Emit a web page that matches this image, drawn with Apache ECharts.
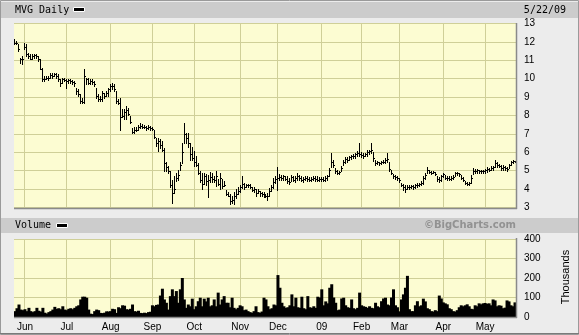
<!DOCTYPE html>
<html><head><meta charset="utf-8">
<script src="https://cdn.jsdelivr.net/npm/echarts@6/dist/echarts.min.js"></script>
<style>html,body{margin:0;padding:0;background:#ececec;overflow:hidden}#c{width:579px;height:335px}</style>
</head><body><div id="c"></div><script>
// Month labels and the index of the first trading day of each month
const monthLabels = ['Jun','Jul','Aug','Sep','Oct','Nov','Dec','09','Feb','Mar','Apr','May'];
const monthStartIdx = [5,26,48,69,90,113,132,154,174,193,215,236];
const priceTicks = {min: 3, max: 13, interval: 1};
const volumeTicks = {min: 0, max: 400, interval: 100};

const high = [
12.15,12.05,11.87,11.15,11.24,11.93,11.87,11.42,11.33,11.33,
11.33,11.33,11.24,11.05,10.6,10.15,10.15,10.15,10.33,10.33,
10.33,10.33,10.24,9.96,10.05,10.05,10.0,10.0,9.96,9.93,
9.87,9.5,9.42,9.15,8.96,10.51,10.05,10.05,9.96,9.96,
9.87,9.5,9.15,9.05,9.33,9.24,9.33,9.5,9.69,9.78,
9.69,9.33,8.87,8.94,8.33,8.35,8.5,8.4,7.95,7.3,
7.4,7.4,7.5,7.6,7.55,7.5,7.45,7.5,7.45,7.4,
7.23,6.8,6.8,6.7,6.6,6.25,5.5,5.24,5.0,4.5,
4.7,4.9,5.05,5.5,6.5,7.6,7.05,7.05,6.5,6.3,
6.05,5.8,5.42,4.96,4.9,4.85,4.8,4.75,4.95,4.85,
4.7,4.96,4.55,4.9,4.55,4.45,3.96,3.85,3.75,3.6,
3.85,4.0,4.1,4.25,4.7,4.35,4.3,4.3,4.3,4.1,
4.1,4.0,4.0,3.9,3.85,3.85,3.75,3.8,4.05,4.25,
4.6,4.7,5.2,4.8,4.75,4.75,4.7,4.7,4.6,4.75,
4.7,4.7,4.9,4.75,4.7,4.65,4.7,4.7,4.65,4.65,
4.7,4.7,4.7,4.65,4.65,4.65,4.7,4.75,5.15,5.96,
5.6,5.15,5.05,5.0,5.25,5.6,5.75,5.75,5.8,5.85,
5.9,5.95,6.05,6.5,6.0,5.95,5.95,6.1,6.15,6.5,
6.0,5.6,5.55,5.5,5.55,5.6,5.7,5.95,5.5,5.05,
4.8,4.75,4.7,4.6,4.35,4.3,4.25,4.25,4.2,4.2,
4.2,4.3,4.35,4.35,4.45,4.7,4.9,5.2,5.05,5.0,
5.0,4.95,4.7,4.65,4.75,4.85,4.75,4.7,4.7,4.7,
4.75,4.95,4.95,4.9,4.75,4.65,4.45,4.4,4.4,4.75,
5.15,5.1,5.1,5.05,5.05,5.05,5.1,5.2,5.15,5.25,
5.25,5.6,5.45,5.35,5.3,5.3,5.25,5.2,5.35,5.55,
5.6,5.55];
const low = [
11.87,11.87,11.5,10.87,10.78,11.6,11.24,11.15,11.05,11.05,
11.15,11.15,10.96,10.51,9.87,9.87,9.96,9.93,10.05,10.05,
10.15,10.05,9.87,9.6,9.78,9.87,9.5,9.78,9.78,9.69,
9.6,9.15,9.05,8.69,8.69,8.69,9.69,9.69,9.69,9.69,
9.6,8.96,8.78,8.78,8.78,8.96,9.05,9.05,9.33,9.42,
9.33,8.69,8.6,7.23,7.9,7.8,7.8,8.04,7.6,7.05,
7.05,7.15,7.23,7.3,7.3,7.3,7.23,7.25,7.23,7.2,
6.8,6.35,6.05,6.25,6.05,4.97,4.97,4.88,4.1,3.25,
3.8,4.45,4.5,5.05,5.4,6.5,6.5,6.3,5.6,5.6,
5.25,5.25,4.8,4.4,4.0,4.3,4.2,3.55,4.4,4.4,
4.4,4.15,4.25,4.0,4.05,4.15,3.7,3.6,3.2,3.25,
3.2,3.5,3.75,3.85,4.05,4.0,4.1,4.1,4.05,3.9,
3.85,3.65,3.8,3.65,3.65,3.55,3.55,3.4,3.6,3.9,
4.05,4.35,3.95,4.5,4.5,4.5,4.5,4.35,4.3,4.45,
4.45,4.4,4.5,4.5,4.45,4.4,4.5,4.45,4.45,4.45,
4.5,4.45,4.45,4.45,4.45,4.45,4.45,4.5,4.7,5.2,
5.2,4.9,4.8,4.8,5.0,5.3,5.4,5.5,5.6,5.65,
5.7,5.7,5.8,5.8,5.75,5.7,5.8,5.8,5.9,5.95,
5.55,5.3,5.35,5.3,5.35,5.4,5.4,5.5,5.0,4.8,
4.6,4.55,4.5,4.4,4.15,3.95,3.85,4.0,4.0,4.05,
4.0,4.05,4.1,4.15,4.25,4.3,4.55,4.9,4.85,4.8,
4.85,4.75,4.45,4.4,4.45,4.65,4.55,4.5,4.5,4.5,
4.55,4.7,4.75,4.7,4.55,4.45,4.3,4.25,4.25,4.35,
4.8,4.9,4.9,4.9,4.9,4.9,4.9,4.95,5.0,5.05,
5.05,5.2,5.2,5.2,5.05,5.05,5.05,5.0,5.15,5.3,
5.4,5.45];
const close = [
11.96,11.93,11.6,11.05,11.05,11.7,11.33,11.24,11.09,11.24,
11.27,11.24,11.05,10.55,9.96,10.0,10.05,10.04,10.18,10.15,
10.24,10.15,9.96,9.78,9.96,9.93,9.87,9.93,9.87,9.82,
9.78,9.33,9.15,8.78,8.73,10.15,9.96,9.78,9.87,9.82,
9.69,9.05,8.87,8.87,9.24,9.05,9.24,9.42,9.6,9.6,
9.42,8.78,8.69,7.9,8.0,8.2,8.3,8.1,7.65,7.1,
7.2,7.2,7.35,7.45,7.4,7.4,7.3,7.35,7.3,7.25,
6.85,6.5,6.6,6.4,6.15,5.4,5.2,5.0,4.2,3.8,
4.0,4.6,4.75,5.3,6.0,7.0,6.8,6.5,5.9,5.7,
5.5,5.3,4.9,4.5,4.3,4.7,4.45,4.5,4.65,4.55,
4.5,4.7,4.3,4.6,4.15,4.2,3.75,3.65,3.35,3.4,
3.6,3.75,3.9,4.1,4.3,4.1,4.2,4.2,4.1,3.95,
4.0,3.8,3.9,3.8,3.75,3.7,3.65,3.6,3.9,4.1,
4.4,4.55,4.6,4.65,4.6,4.7,4.55,4.45,4.4,4.65,
4.5,4.6,4.7,4.6,4.5,4.55,4.6,4.55,4.5,4.55,
4.6,4.55,4.5,4.55,4.55,4.5,4.6,4.7,5.05,5.45,
5.3,5.0,4.9,4.95,5.15,5.5,5.65,5.6,5.75,5.8,
5.8,5.9,5.95,5.9,5.85,5.8,5.9,6.0,6.05,6.1,
5.7,5.4,5.45,5.4,5.5,5.5,5.6,5.65,5.1,4.9,
4.7,4.65,4.6,4.5,4.25,4.1,4.0,4.1,4.1,4.15,
4.1,4.2,4.25,4.3,4.35,4.6,4.75,5.05,4.95,4.9,
4.95,4.8,4.55,4.5,4.7,4.8,4.6,4.6,4.55,4.6,
4.65,4.85,4.85,4.8,4.6,4.5,4.35,4.3,4.35,4.6,
5.0,5.0,5.05,5.0,5.0,5.0,5.05,5.1,5.05,5.15,
5.2,5.4,5.3,5.25,5.15,5.2,5.15,5.1,5.3,5.45,
5.55,5.5];
// volume in thousands
const volume = [
30,45,64,38,35,40,30,47,30,25,
30,47,32,28,47,22,18,25,30,38,
52,42,45,40,55,38,35,42,45,40,
47,55,60,90,104,104,99,38,17,15,
30,38,35,21,20,22,29,28,30,42,
40,21,50,45,60,58,40,38,42,64,
30,28,32,21,20,22,20,25,27,60,
55,62,64,110,145,90,73,38,107,142,
107,133,73,142,200,90,47,64,55,94,
40,55,81,99,55,94,80,99,55,60,
90,55,125,64,90,107,73,73,50,99,
47,40,47,60,55,35,38,30,25,22,
30,55,25,22,28,99,90,55,40,45,
64,60,215,150,73,55,47,50,60,116,
55,99,50,47,104,45,40,107,50,47,
55,47,104,100,142,60,80,70,150,168,
100,73,35,38,95,99,60,50,47,90,
45,40,47,125,60,55,52,47,55,47,
45,73,55,50,81,95,99,64,60,100,
142,60,50,29,90,116,150,211,40,30,
30,60,81,55,60,94,80,45,40,30,
28,35,30,110,95,75,70,65,45,40,
30,28,35,50,60,55,60,65,55,42,
40,60,55,70,65,70,72,68,70,60,
90,85,55,60,58,45,48,85,80,60,
55,75];

const days = close.map((_, i) => String(i));
const gridColor = '#cfcf98';
const plotBg = '#fcfcd2';
const monoFont = '"DejaVu Sans Mono", monospace';
const sansFont = '"Liberation Sans", Arial, sans-serif';

const chart = echarts.init(document.getElementById('c'), null, {renderer: 'canvas'});

const ohlcData = close.map((c, i) => [i, high[i], low[i], c]);
const monthData = monthStartIdx.map(i => [i]);

function monthLineRender(params, api) {
  const p = api.coord([api.value(0), 0]);
  const cs = params.coordSys;
  const x = Math.floor(p[0]) + 0.5;
  return {type: 'line', silent: true,
    shape: {x1: x, y1: cs.y, x2: x, y2: cs.y + cs.height},
    style: {stroke: gridColor, lineWidth: 1}};
}

const option = {
  animation: false,
  backgroundColor: '#ececec',
  grid: [
    {left: 14, right: 63, top: 23.5, height: 184, show: true, backgroundColor: plotBg, borderWidth: 0},
    {left: 14, right: 63, top: 239, height: 78, show: true, backgroundColor: plotBg, borderWidth: 0}
  ],
  xAxis: [
    {type: 'category', gridIndex: 0, data: days, boundaryGap: true,
     axisLine: {show: false}, axisTick: {show: false}, axisLabel: {show: false}, splitLine: {show: false}},
    {type: 'category', gridIndex: 1, data: days, boundaryGap: true,
     axisLine: {show: false}, axisTick: {show: false}, splitLine: {show: false},
     axisLabel: {show: true, margin: 5, color: '#000', fontSize: 10, fontFamily: sansFont,
       interval: (idx) => monthStartIdx.indexOf(idx) >= 0,
       formatter: (val, idx) => { const k = monthStartIdx.indexOf(Number(val)); return k >= 0 ? monthLabels[k] : ''; }}}
  ],
  yAxis: [
    {type: 'value', gridIndex: 0, position: 'right', min: priceTicks.min, max: priceTicks.max, interval: priceTicks.interval,
     axisLine: {show: false}, axisTick: {show: false},
     axisLabel: {margin: 8, color: '#000', fontSize: 10, fontFamily: sansFont},
     splitLine: {show: true, lineStyle: {color: gridColor, width: 1}}},
    {type: 'value', gridIndex: 1, position: 'right', min: volumeTicks.min, max: volumeTicks.max, interval: volumeTicks.interval,
     axisLine: {show: false}, axisTick: {show: false},
     axisLabel: {margin: 8, color: '#000', fontSize: 10, fontFamily: sansFont},
     splitLine: {show: true, lineStyle: {color: gridColor, width: 1}}}
  ],
  series: [
    {type: 'custom', xAxisIndex: 0, yAxisIndex: 0, z: 1, silent: true, data: monthData,
     encode: {x: 0}, renderItem: monthLineRender},
    {type: 'custom', xAxisIndex: 1, yAxisIndex: 1, z: 1, silent: true, data: monthData,
     encode: {x: 0}, renderItem: monthLineRender},
    {type: 'custom', xAxisIndex: 0, yAxisIndex: 0, z: 3, silent: true, data: ohlcData,
     encode: {x: 0, y: [1, 2, 3]},
     renderItem: function (params, api) {
       const i = api.value(0);
       const ph = api.coord([i, api.value(1)]);
       const pl = api.coord([i, api.value(2)]);
       const pc = api.coord([i, api.value(3)]);
       const x = Math.floor(ph[0]) + 0.5;
       const yc = Math.round(pc[1]) + 0.5;
       return {type: 'group', children: [
         {type: 'line', shape: {x1: x, y1: Math.round(ph[1]), x2: x, y2: Math.round(pl[1]) + 1},
          style: {stroke: '#000', lineWidth: 1}},
         {type: 'line', shape: {x1: x, y1: yc, x2: x + 1.5, y2: yc},
          style: {stroke: '#000', lineWidth: 1}}
       ]};
     }},
    {type: 'bar', xAxisIndex: 1, yAxisIndex: 1, z: 3, silent: true, data: volume,
     barWidth: 3, barGap: '0%', itemStyle: {color: '#000'}}
  ],
  graphic: [
    {type: 'rect', z: 100, silent: true, shape: {x: 0.5, y: 0.5, width: 578, height: 334}, style: {fill: 'none', stroke: '#9a9a9a', lineWidth: 1}},
    {type: 'rect', z: 99, silent: true, shape: {x: 1, y: 2, width: 577, height: 16}, style: {fill: '#cccccc'}},
    {type: 'text', z: 101, silent: true, x: 15, y: 10, style: {text: 'MVG Daily', font: '10px ' + monoFont, fill: '#000', verticalAlign: 'middle'}},
    {type: 'rect', z: 101, silent: true, shape: {x: 73.5, y: 7.5, width: 11, height: 4}, style: {fill: '#000', stroke: '#fff', lineWidth: 1}},
    {type: 'text', z: 101, silent: true, x: 566, y: 10, style: {text: '5/22/09', font: '10px ' + monoFont, fill: '#000', align: 'right', verticalAlign: 'middle'}},
    {type: 'rect', z: 99, silent: true, shape: {x: 1, y: 218, width: 577, height: 15}, style: {fill: '#cccccc'}},
    {type: 'text', z: 101, silent: true, x: 15, y: 225.5, style: {text: 'Volume', font: '10px ' + monoFont, fill: '#000', verticalAlign: 'middle'}},
    {type: 'rect', z: 101, silent: true, shape: {x: 56.5, y: 223.5, width: 11, height: 4}, style: {fill: '#000', stroke: '#fff', lineWidth: 1}},
    {type: 'text', z: 101, silent: true, x: 516, y: 225.5, style: {text: '\u00A9BigCharts.com', font: 'bold 10px "DejaVu Sans", sans-serif', fill: '#929292', align: 'right', verticalAlign: 'middle'}},
    {type: 'text', z: 101, silent: true, x: 566, y: 277, rotation: Math.PI / 2, style: {text: 'Thousands', font: '11px ' + sansFont, fill: '#000', align: 'center', verticalAlign: 'middle'}},
    // plot edges
    {type: 'line', z: 100, silent: true, shape: {x1: 14, y1: 208.5, x2: 517, y2: 208.5}, style: {stroke: '#8a8a8a', lineWidth: 1.5}},
    {type: 'line', z: 100, silent: true, shape: {x1: 516.5, y1: 23, x2: 516.5, y2: 209}, style: {stroke: '#8a8a8a', lineWidth: 1.5}},
    {type: 'line', z: 100, silent: true, shape: {x1: 14, y1: 317.5, x2: 517, y2: 317.5}, style: {stroke: '#8a8a8a', lineWidth: 1.5}},
    {type: 'line', z: 100, silent: true, shape: {x1: 516.5, y1: 238, x2: 516.5, y2: 318}, style: {stroke: '#8a8a8a', lineWidth: 1.5}},
    {type: 'line', z: 100, silent: true, shape: {x1: 0, y1: 333.5, x2: 579, y2: 333.5}, style: {stroke: '#7a7a7a', lineWidth: 1}}
  ]
};
chart.setOption(option);
</script></body></html>
